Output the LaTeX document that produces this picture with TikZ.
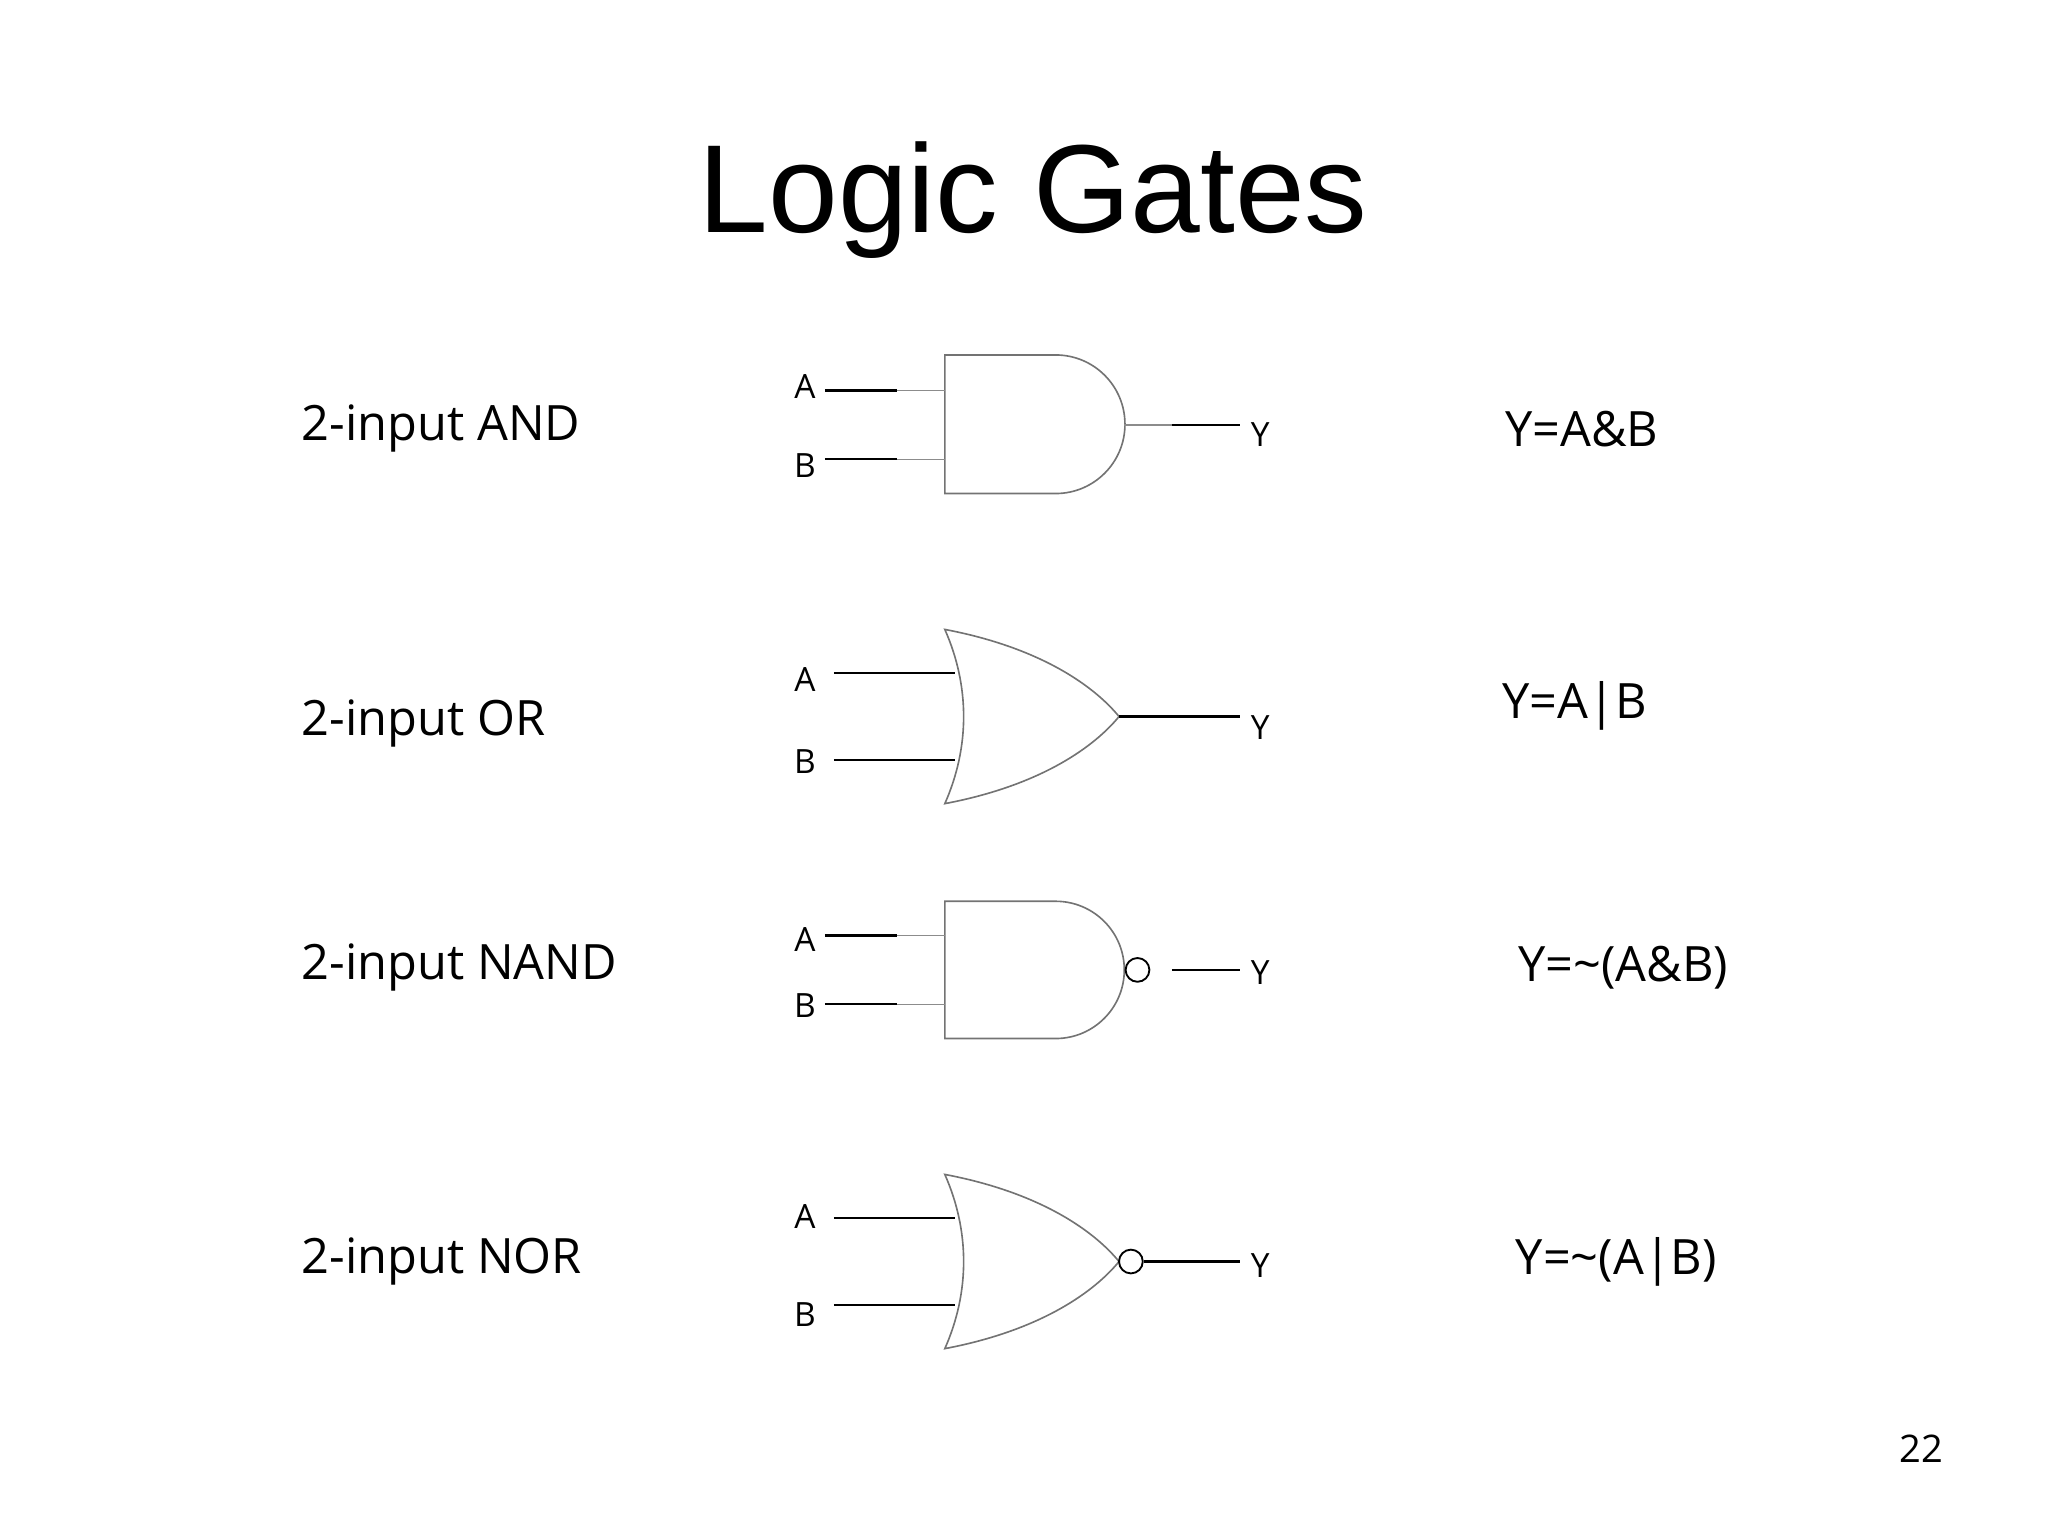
\documentclass[tikz,border=0pt]{standalone}
\usepackage{fontspec}
\setmainfont{Open Sans}
\newfontfamily\titlefont{Liberation Sans}
\usetikzlibrary{positioning}

\begin{document}
\begin{tikzpicture}[
    x=0.01cm, y=-0.01cm,
    every node/.style={inner sep=0pt, anchor=west},
    label/.style={font=\fontsize{10.5}{12}\selectfont},
    pin/.style={font=\fontsize{7.2}{9}\selectfont, anchor=center},
    wire/.style={line width=0.5pt, black},
    stub/.style={line width=0.3pt, black!45},
    body/.style={line width=0.35pt, black!55},
    bubble/.style={draw, circle, line width=0.4pt, minimum size=0.18cm, anchor=center}
]
    \useasboundingbox (0,0) rectangle (1552,1164);

    % Title
    \node (title) [anchor=center, font=\titlefont\fontsize{27}{32}\selectfont] at (783,152) {Logic Gates};

    % Gate names
    \node (nAND)  [label] at (228,325) {2-input AND};
    \node (nOR)   [label] at (228,548) {2-input OR};
    \node (nNAND) [label] at (228,733) {2-input NAND};
    \node (nNOR)  [label] at (228,956) {2-input NOR};

    % Expressions
    \node (eAND)  [label] at (1140,325) {Y=A\&B};
    \node (eOR)   [label] at (1138,535) {Y=A|B};
    \node (eNAND) [label] at (1150,733) {Y=\char`\~(A\&B)};
    \node (eNOR)  [label] at (1148,956) {Y=\char`\~(A|B)};

    % AND gate
    \draw[body] (716,269) -- (800,269) arc[start angle=-90, end angle=90, radius=52.5] -- (716,374) -- cycle;
    \node (a1) [pin] at (610,293) {A};
    \node (b1) [pin] at (610,353) {B};
    \node (y1) [pin] at (955,329) {Y};
    \coordinate (a1w) at (625,296); \coordinate (a1s) at (680,296); \coordinate (a1g) at (716,296);
    \coordinate (b1w) at (625,348); \coordinate (b1s) at (680,348); \coordinate (b1g) at (716,348);
    \coordinate (y1g) at (852,322); \coordinate (y1s) at (888,322); \coordinate (y1w) at (940,322);
    \draw[wire] (a1w) -- (a1s);
    \draw[wire] (b1w) -- (b1s);
    \draw[stub] (a1s) -- (a1g);
    \draw[stub] (b1s) -- (b1g);
    \draw[stub] (y1g) -- (y1s);
    \draw[wire] (y1s) -- (y1w);

    % OR gate
    \draw[body] (716,477) .. controls (735,520) and (735,566) .. (716,609)
        .. controls (790,595) and (830,565) .. (848,543)
        .. controls (830,521) and (790,491) .. cycle;
    \node (a2) [pin] at (610,515) {A};
    \node (b2) [pin] at (610,577) {B};
    \node (y2) [pin] at (955,551) {Y};
    \coordinate (a2w) at (632,510); \coordinate (a2g) at (724,510);
    \coordinate (b2w) at (632,576); \coordinate (b2g) at (724,576);
    \coordinate (y2g) at (848,543); \coordinate (y2w) at (940,543);
    \draw[wire] (a2w) -- (a2g);
    \draw[wire] (b2w) -- (b2g);
    \draw[wire] (y2g) -- (y2w);

    % NAND gate
    \draw[body] (716,683) -- (800,683) arc[start angle=-90, end angle=90, radius=52] -- (716,787) -- cycle;
    \node (n3) [bubble] at (862,735) {};
    \node (a3) [pin] at (610,712) {A};
    \node (b3) [pin] at (610,762) {B};
    \node (y3) [pin] at (955,737) {Y};
    \coordinate (a3w) at (625,709); \coordinate (a3s) at (680,709); \coordinate (a3g) at (716,709);
    \coordinate (b3w) at (625,761); \coordinate (b3s) at (680,761); \coordinate (b3g) at (716,761);
    \coordinate (y3s) at (888,735); \coordinate (y3w) at (940,735);
    \draw[wire] (a3w) -- (a3s);
    \draw[wire] (b3w) -- (b3s);
    \draw[stub] (a3s) -- (a3g);
    \draw[stub] (b3s) -- (b3g);
    \draw[wire] (y3s) -- (y3w);

    % NOR gate
    \draw[body] (716,890) .. controls (735,933) and (735,979) .. (716,1022)
        .. controls (790,1008) and (830,978) .. (848,956)
        .. controls (830,934) and (790,904) .. cycle;
    \node (n4) [bubble] at (857,956) {};
    \node (a4) [pin] at (610,922) {A};
    \node (b4) [pin] at (610,996) {B};
    \node (y4) [pin] at (955,959) {Y};
    \coordinate (a4w) at (632,923); \coordinate (a4g) at (724,923);
    \coordinate (b4w) at (632,989); \coordinate (b4g) at (724,989);
    \coordinate (y4w) at (940,956);
    \draw[wire] (a4w) -- (a4g);
    \draw[wire] (b4w) -- (b4g);
    \draw[wire] (n4.east) -- (y4w);

    % Page number
    \node (page) [pin, font=\fontsize{8.2}{10}\selectfont] at (1456,1098) {22};
\end{tikzpicture}
\end{document}
